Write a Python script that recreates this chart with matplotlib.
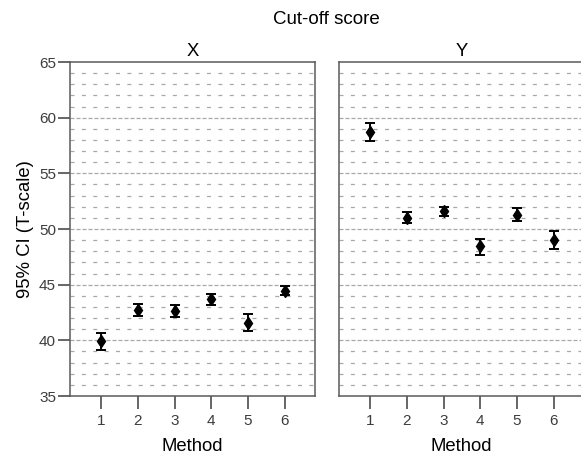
import matplotlib
matplotlib.use("Agg")
import matplotlib.pyplot as plt
from matplotlib.ticker import MultipleLocator

plt.rcParams['font.family'] = ['Liberation Sans', 'DejaVu Sans']

methods = [1, 2, 3, 4, 5, 6]
panels = ["X", "Y"]

x_mean = [39.9, 42.7, 42.6, 43.7, 41.6, 44.4]
x_low = [39.1, 42.2, 42.1, 43.2, 40.8, 44.1]
x_high = [40.7, 43.3, 43.2, 44.2, 42.4, 44.9]

y_mean = [58.7, 51.0, 51.6, 48.5, 51.3, 49.0]
y_low = [57.9, 50.5, 51.2, 47.7, 50.7, 48.2]
y_high = [59.5, 51.5, 52.0, 49.1, 51.9, 49.8]

series = {
    "X": (x_mean, x_low, x_high),
    "Y": (y_mean, y_low, y_high),
}

W, H = 581, 457
fig = plt.figure(figsize=(W / 100, H / 100), dpi=100)

spine_col = "#5a5a5a"
text_col = "#3c3c3c"
grid_col = "#a8a8a8"

def frame(l, b, w, h):
    return [l / W, (H - b - h) / H, w / W, h / H]

ax_left = fig.add_axes(frame(70, 396 - 334, 245, 334))
ax_right = fig.add_axes(frame(339, 396 - 334, 245, 334))

for ax, name in zip([ax_left, ax_right], panels):
    mean, low, high = series[name]
    ax.set_xlim(0.15, 6.83)
    ax.set_ylim(35, 65)
    # reference lines: light dashes every unit, denser dashes every 5
    for v in range(36, 65):
        if v % 5 == 0:
            ax.axhline(v, color=grid_col, lw=0.9, ls=(0, (3.2, 1.6)), zorder=0)
        else:
            ax.axhline(v, color=grid_col, lw=0.9, ls=(0, (3.2, 5.9)), zorder=0)
    yerr = [[m - lo for m, lo in zip(mean, low)], [hi - m for m, hi in zip(mean, high)]]
    ax.errorbar(methods, mean, yerr=yerr, fmt="d", color="black", ms=6,
                elinewidth=1.4, capsize=3.6, capthick=1.4, zorder=3)
    ax.set_xticks(methods)
    ax.set_xticklabels([str(m) for m in methods], fontsize=11, color=text_col)
    ax.tick_params(axis="x", length=9, width=1.3, color=spine_col, pad=4)
    for s in ax.spines.values():
        s.set_color(spine_col)
        s.set_linewidth(1.1)
    ax.set_xlabel("Method", fontsize=13.3, labelpad=7)
    ax.set_title(name, fontsize=13.3, pad=4)

ax_left.yaxis.set_major_locator(MultipleLocator(5))
ax_left.tick_params(axis="y", which="major", length=9, width=1.3, color=spine_col,
                    labelsize=11, labelcolor=text_col, pad=1)
ax_left.set_ylabel("95% CI (T-scale)", fontsize=13.3, labelpad=4)

ax_right.tick_params(axis="y", which="both", left=False, labelleft=False)

fig.text(326 / W, 1 - 20 / H, "Cut-off score", ha="center", va="center", fontsize=13.5)

fig.savefig("out.png", dpi=100)
